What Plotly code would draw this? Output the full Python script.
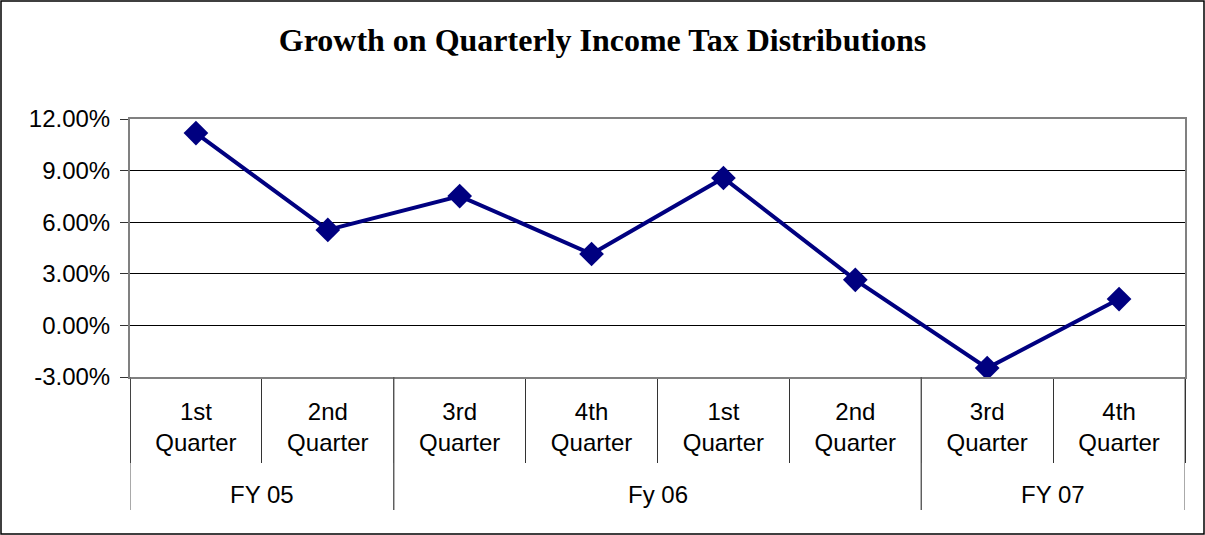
import plotly.graph_objects as go

fiscal_years = ["FY 05", "Fy 06", "FY 07"]
fy_spans = [(0, 1), (2, 5), (6, 7)]  # first/last quarter index in each year
quarter_keys = ["FY05 Q1", "FY05 Q2", "FY06 Q3", "FY06 Q4", "FY06 Q1", "FY06 Q2", "FY07 Q3", "FY07 Q4"]
quarter_labels = [
    "1st<br>Quarter", "2nd<br>Quarter", "3rd<br>Quarter", "4th<br>Quarter",
    "1st<br>Quarter", "2nd<br>Quarter", "3rd<br>Quarter", "4th<br>Quarter",
]
growth = [0.1118, 0.0555, 0.0752, 0.0415, 0.0857, 0.0265, -0.0248, 0.0153]
y_ticks = [-0.03, 0.0, 0.03, 0.06, 0.09, 0.12]
y_tick_labels = ["-3.00%", "0.00%", "3.00%", "6.00%", "9.00%", "12.00%"]

W, H = 1205, 535
ML, MR, MT, MB = 130, 20, 119, 158
pw = W - ML - MR
ph = H - MT - MB

fig = go.Figure()
fig.add_trace(
    go.Scatter(
        x=quarter_keys,
        y=growth,
        mode="lines+markers",
        line=dict(color="#000080", width=4),
        marker=dict(symbol="diamond", size=19, color="#000080"),
        showlegend=False,
    )
)

# outer chart frame
fig.add_shape(
    type="rect", xref="paper", yref="paper",
    x0=-(ML - 1) / pw, x1=1 + (MR - 1) / pw,
    y0=-(MB - 1) / ph, y1=1 + (MT - 1) / ph,
    line=dict(color="#000000", width=1.5),
)

# fiscal year dividers and labels
for fy, (a, b) in zip(fiscal_years, fy_spans):
    for xb in (a - 0.5, b + 0.5):
        fig.add_shape(
            type="line", xref="x", yref="paper",
            x0=xb, x1=xb, y0=0, y1=-(510 - 377) / ph,
            line=dict(color="#555555", width=1),
        )
    fig.add_annotation(
        x=(a + b) / 2, xref="x", y=-(494 - 377) / ph, yref="paper",
        text=fy, showarrow=False, yanchor="middle",
        font=dict(size=24),
    )

fig.update_layout(
    width=W,
    height=H,
    margin=dict(l=ML, r=MR, t=MT, b=MB),
    paper_bgcolor="white",
    plot_bgcolor="white",
    font=dict(family="Liberation Sans, Arial", size=24, color="black"),
    title=dict(
        text="<b>Growth on Quarterly Income Tax Distributions</b>",
        x=0.5, xanchor="center", y=1 - 40 / H, yanchor="middle",
        font=dict(family="Liberation Serif, Times New Roman", size=32, color="black"),
    ),
    xaxis=dict(
        type="category",
        tickmode="array", tickvals=quarter_keys, ticktext=quarter_labels,
        showgrid=False,
        showline=True, linecolor="#808080", linewidth=2, mirror=True,
        ticks="outside", tickson="boundaries", ticklen=84,
        tickcolor="#333333", tickwidth=1,
        ticklabelstandoff=12,
        range=[-0.5, 7.5],
    ),
    yaxis=dict(
        range=[-0.03, 0.12],
        tickmode="array", tickvals=y_ticks, ticktext=y_tick_labels,
        showgrid=True, gridcolor="#000000", gridwidth=1,
        zeroline=False,
        showline=True, linecolor="#808080", linewidth=2, mirror=True,
        ticks="outside", ticklen=8, tickcolor="#333333",
        ticklabelstandoff=5,
    ),
)

fig.write_html(
    "out.html",
    config={"displayModeBar": False},
    post_script="document.body.style.margin = '0';",
)
